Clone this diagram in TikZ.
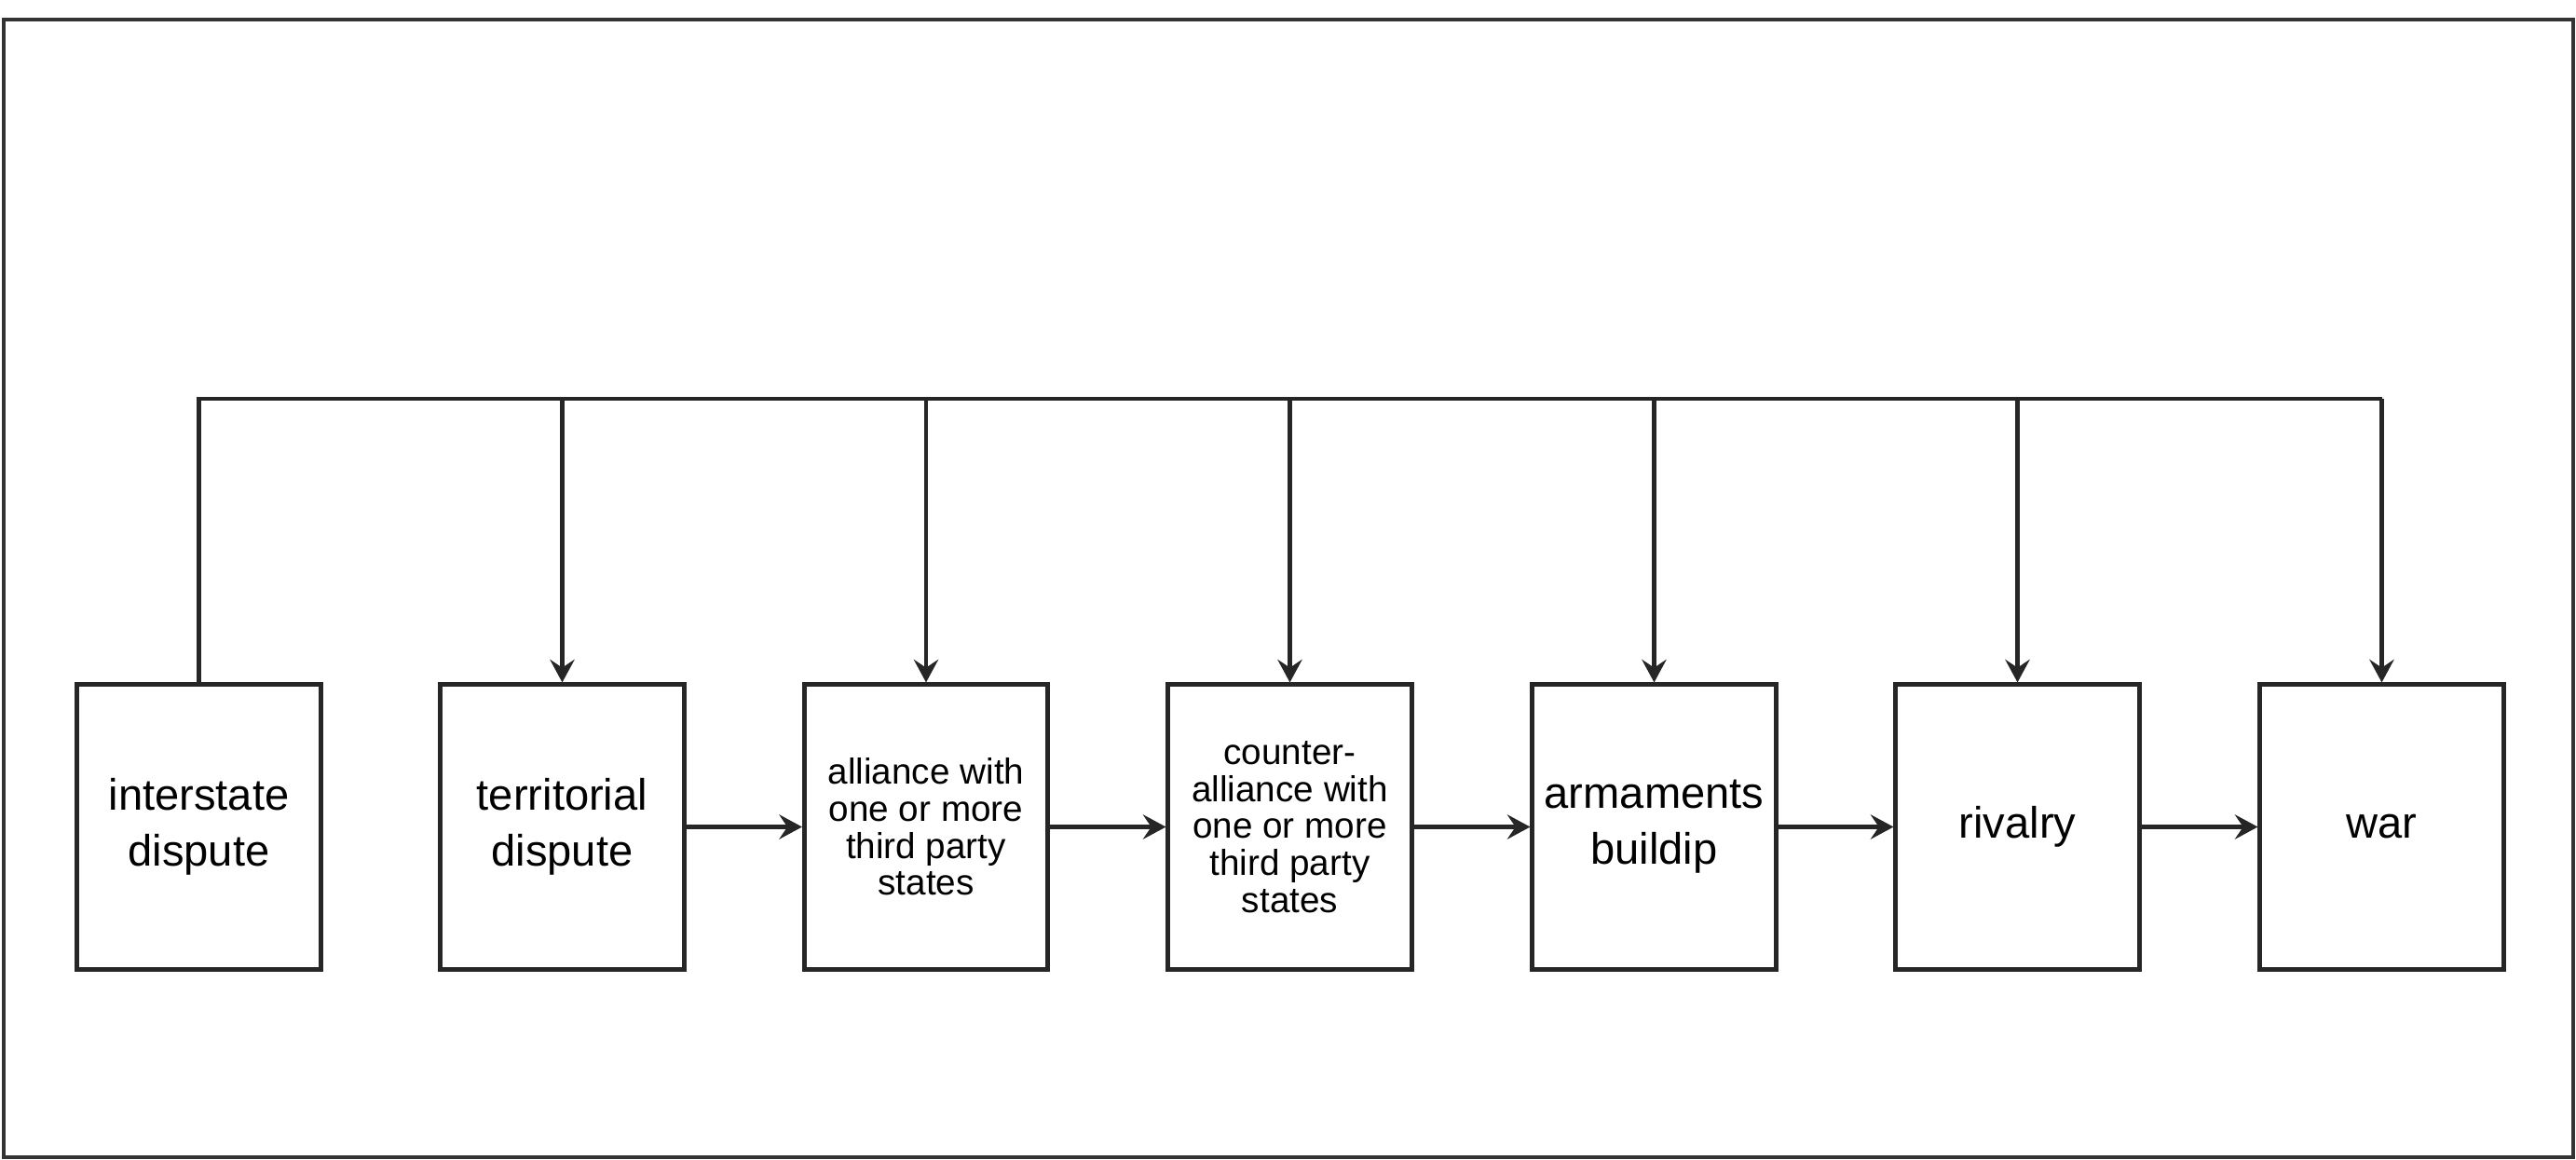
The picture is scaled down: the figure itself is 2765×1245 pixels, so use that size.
\documentclass[tikz,border=0pt]{standalone}
\usepackage{fontspec}
\setmainfont{Liberation Sans}
\usetikzlibrary{arrows.meta}
\begin{document}
\begin{tikzpicture}[x=0.01cm,y=-0.01cm,
  stagebox/.style={draw=black!85,line width=1.4pt,minimum width=2.61cm,minimum height=3.05cm,inner sep=0pt,align=center},
  bigtxt/.style={font=\fontsize{13.4}{17}\selectfont},
  smalltxt/.style={font=\fontsize{11}{11.3}\selectfont},
  conn/.style={draw=black!85,line width=1.2pt},
  arr/.style={conn,-{Stealth[length=7pt,width=7.5pt,inset=2.5pt]}}]
\useasboundingbox (0,0) rectangle (2765,1245);
\draw[draw=black!80,line width=1.3pt] (4,21) rectangle (2762,1242);
\node[stagebox,bigtxt] (b1) at (213.5,887.5) {interstate\\dispute};
\node[stagebox,bigtxt] (b2) at (603.5,887.5) {territorial\\dispute};
\node[stagebox,smalltxt] (b3) at (994,887.5) {alliance with\\one or more\\third party\\states};
\node[stagebox,smalltxt] (b4) at (1384.5,887.5) {counter-\\alliance with\\one or more\\third party\\states};
\node[stagebox,bigtxt] (b5) at (1775.5,887.5) {armaments\\buildip};
\node[stagebox,bigtxt] (b6) at (2165.5,887.5) {rivalry};
\node[stagebox,bigtxt] (b7) at (2556.5,887.5) {war};
\coordinate (tl) at (213.5,428);
\coordinate (tr) at (2556.5,428);
\draw[conn,line join=miter] (b1.north) -- (tl) -- (tr);
\foreach \n in {b2,b3,b4,b5,b6,b7}{
  \draw[arr] (tl -| \n.north) -- (\n.north);
}
\draw[arr] (b2.east) -- (b3.west);
\draw[arr] (b3.east) -- (b4.west);
\draw[arr] (b4.east) -- (b5.west);
\draw[arr] (b5.east) -- (b6.west);
\draw[arr] (b6.east) -- (b7.west);
\end{tikzpicture}
\end{document}
